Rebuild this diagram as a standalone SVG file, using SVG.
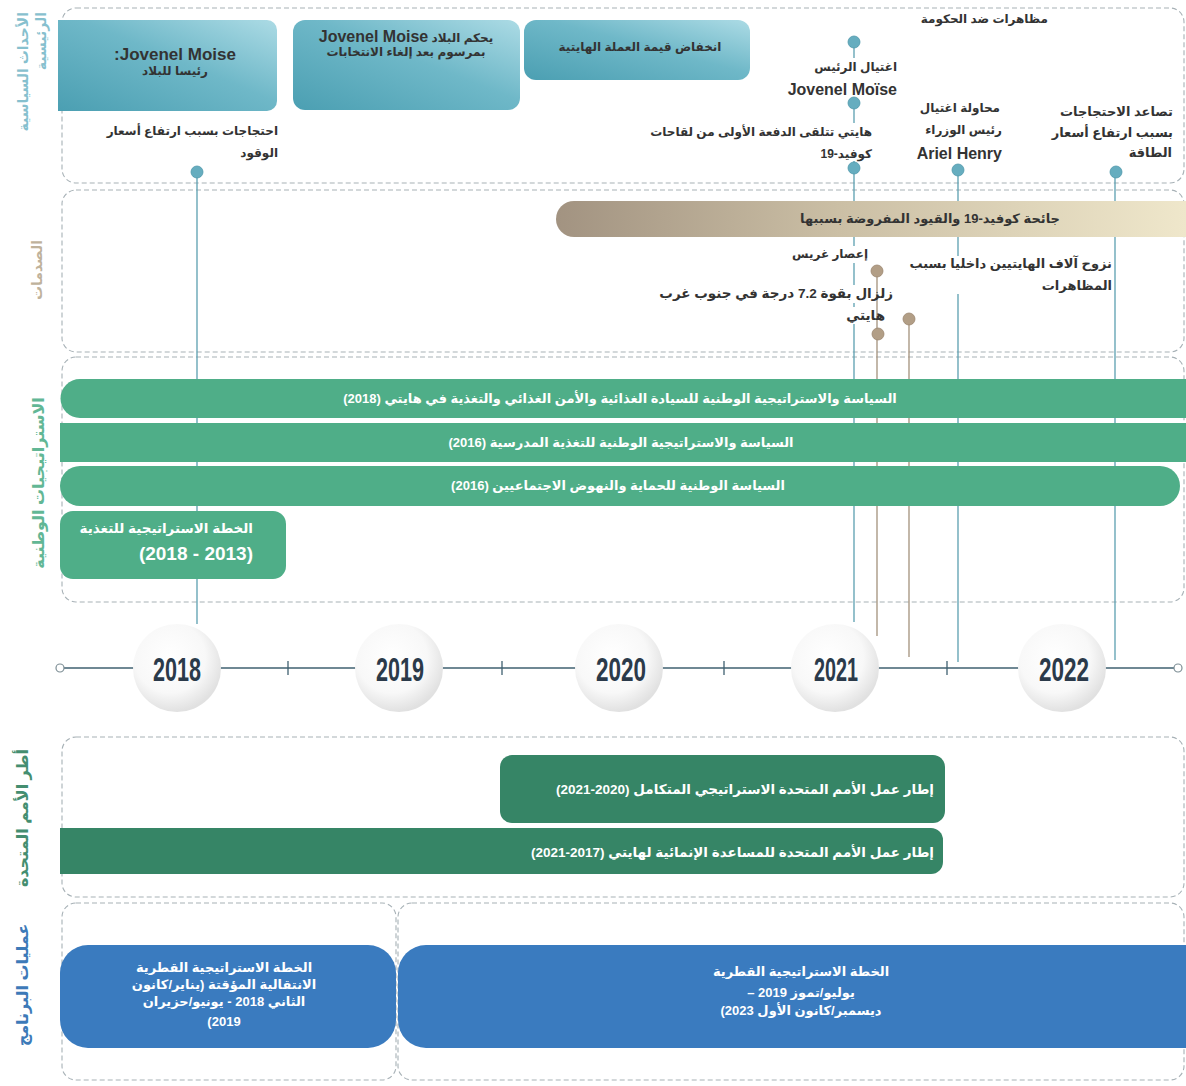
<svg xmlns="http://www.w3.org/2000/svg" width="1186" height="1086" viewBox="0 0 1186 1086">
<defs>
<style>
.sec{fill:#fff;stroke:#a7b1b6;stroke-width:1.1;stroke-dasharray:5 3}
.t{font-family:"Liberation Sans","DejaVu Sans",sans-serif;font-weight:bold;font-size:12px;fill:#333}
.m{font-size:13px}
.big{font-family:"Liberation Sans","DejaVu Sans",sans-serif;font-weight:bold;font-size:16px;fill:#333}
.w{fill:#fff}
.lbl{font-family:"Liberation Sans","DejaVu Sans",sans-serif;font-weight:bold;font-size:14px}
.yr{font-family:"Liberation Sans",sans-serif;font-weight:bold;font-size:34px;fill:#2b3a4a}
.ln{stroke:#5b9fb0;stroke-width:1.3;fill:none}
.lnt{stroke:#a3917c;stroke-width:1.3;fill:none}
.dot{fill:#66adbf;stroke:#4f98ab;stroke-width:0.8}
.dott{fill:#b29e86;stroke:#9c8770;stroke-width:0.8}
.g1{fill:#4fae88}
.g2{fill:#368566}
.b1{fill:#3a7bbf}
.tb{fill:#fff}
</style>
<linearGradient id="teal" x1="0" y1="1" x2="1" y2="0">
<stop offset="0" stop-color="#4b9fb2"/>
<stop offset="0.55" stop-color="#6fb8c8"/>
<stop offset="1" stop-color="#acdbe5"/>
</linearGradient>
<linearGradient id="covid" x1="0" y1="0" x2="1" y2="0">
<stop offset="0" stop-color="#a29381"/>
<stop offset="0.45" stop-color="#cbbfa5"/>
<stop offset="1" stop-color="#efe7cb"/>
</linearGradient>
<radialGradient id="yc" cx="0.42" cy="0.38" r="0.62">
<stop offset="0" stop-color="#ffffff"/>
<stop offset="0.65" stop-color="#f8f8f8"/>
<stop offset="1" stop-color="#e1e1e1"/>
</radialGradient>
</defs>

<rect width="1186" height="1086" fill="#fff"/>

<g id="sections">
<rect class="sec" x="62" y="8" width="1122" height="175" rx="14"/>
<rect class="sec" x="62" y="190" width="1122" height="162" rx="14"/>
<rect class="sec" x="62" y="357" width="1122" height="245" rx="14"/>
<rect class="sec" x="62" y="737" width="1122" height="160" rx="14"/>
<rect class="sec" x="62" y="903" width="334" height="177" rx="14"/>
<rect class="sec" x="398" y="903" width="786" height="177" rx="14"/>
<text class="lbl" fill="#86c0ce" direction="rtl" text-anchor="start" transform="translate(28,12) rotate(-90)">الأحداث السياسية</text>
<text class="lbl" fill="#86c0ce" direction="rtl" text-anchor="start" transform="translate(46,12) rotate(-90)">الرئيسية</text>
<text class="lbl" fill="#bfb29b" direction="rtl" text-anchor="middle" transform="translate(42,270) rotate(-90)">الصدمات</text>
<text class="lbl" fill="#62b795" direction="rtl" text-anchor="middle" style="font-size:16px" transform="translate(44,483) rotate(-90)">الاستراتيجيات الوطنية</text>
<text class="lbl" fill="#448e70" direction="rtl" text-anchor="middle" style="font-size:16px" transform="translate(28,818) rotate(-90)">أطر الأمم المتحدة</text>
<text class="lbl" fill="#3d7ab8" direction="rtl" text-anchor="middle" style="font-size:16px" transform="translate(28,985) rotate(-90)">عمليات البرنامج</text>
</g>

<g id="connectors">
<line class="ln" x1="197" y1="172" x2="197" y2="624"/>
<line class="ln" x1="854" y1="42" x2="854" y2="622"/>
<line class="ln" x1="958" y1="170" x2="958" y2="662"/>
<line class="ln" x1="1115" y1="172" x2="1115" y2="660"/>
<line class="lnt" x1="877" y1="271" x2="877" y2="636"/>
<line class="lnt" x1="909" y1="319" x2="909" y2="657"/>
</g>

<g id="timeline">
<line x1="64" y1="668" x2="1174" y2="668" stroke="#3f6070" stroke-width="1.5"/>
<circle cx="60" cy="668" r="4" fill="#fff" stroke="#7d8e95" stroke-width="1.2"/>
<circle cx="1178" cy="668" r="4" fill="#fff" stroke="#7d8e95" stroke-width="1.2"/>
<g stroke="#3f6070" stroke-width="1.3">
<line x1="288" y1="661" x2="288" y2="675"/>
<line x1="502" y1="661" x2="502" y2="675"/>
<line x1="724" y1="661" x2="724" y2="675"/>
<line x1="947" y1="661" x2="947" y2="675"/>
</g>
</g>

<g id="year-2018"><circle cx="177" cy="668" r="44" fill="url(#yc)"/><text class="yr" x="177" y="681" text-anchor="middle" textLength="48" lengthAdjust="spacingAndGlyphs">2018</text></g>
<g id="year-2019"><circle cx="399" cy="668" r="44" fill="url(#yc)"/><text class="yr" x="400" y="681" text-anchor="middle" textLength="48" lengthAdjust="spacingAndGlyphs">2019</text></g>
<g id="year-2020"><circle cx="619" cy="668" r="44" fill="url(#yc)"/><text class="yr" x="621" y="681" text-anchor="middle" textLength="50" lengthAdjust="spacingAndGlyphs">2020</text></g>
<g id="year-2021"><circle cx="835" cy="668" r="44" fill="url(#yc)"/><text class="yr" x="836" y="681" text-anchor="middle" textLength="44" lengthAdjust="spacingAndGlyphs">2021</text></g>
<g id="year-2022"><circle cx="1062" cy="668" r="44" fill="url(#yc)"/><text class="yr" x="1064" y="681" text-anchor="middle" textLength="50" lengthAdjust="spacingAndGlyphs">2022</text></g>

<g id="ev-president">
<path d="M58,20 H267 A10,10 0 0 1 277,30 V101 A10,10 0 0 1 267,111 H58 Z" fill="url(#teal)"/>
<text class="big" x="175" y="60" text-anchor="middle" style="font-size:17px">:Jovenel Moise</text>
<text class="t" x="175" y="75" text-anchor="middle" direction="rtl">رئيسا للبلاد</text>
</g>
<g id="ev-decree">
<rect x="293" y="20" width="227" height="90" rx="12" fill="url(#teal)"/>
<text class="t" x="406" y="42" text-anchor="middle"><tspan style="font-size:16px">Jovenel Moise</tspan> يحكم البلاد</text>
<text class="t" x="406" y="56" text-anchor="middle" direction="rtl">بمرسوم بعد إلغاء الانتخابات</text>
</g>
<g id="ev-currency">
<rect x="524" y="20" width="226" height="60" rx="12" fill="url(#teal)"/>
<text class="t" x="640" y="51" text-anchor="middle" direction="rtl">انخفاض قيمة العملة الهايتية</text>
</g>
<g id="ev-demonstrations">
<text class="t" x="1048" y="23" text-anchor="start" direction="rtl">مظاهرات ضد الحكومة</text>
</g>
<g id="ev-fuel">
<text class="t" x="278" y="135" text-anchor="start" direction="rtl">احتجاجات بسبب ارتفاع أسعار</text>
<text class="t" x="278" y="157" text-anchor="start" direction="rtl">الوقود</text>
<circle class="dot" cx="197" cy="172" r="6"/>
</g>
<g id="ev-assassination">
<circle class="dot" cx="854" cy="42" r="6"/>
<rect class="tb" x="775" y="58" width="125" height="40"/>
<text class="t" x="897" y="71" text-anchor="start" direction="rtl">اغتيال الرئيس</text>
<text class="big" x="897" y="95" text-anchor="end">Jovenel Moïse</text>
<circle class="dot" cx="854" cy="103" r="6"/>
</g>
<g id="ev-vaccine">
<rect class="tb" x="648" y="123" width="226" height="38"/>
<text class="t" x="872" y="136" text-anchor="start" direction="rtl">هايتي تتلقى الدفعة الأولى من لقاحات</text>
<text class="t" x="872" y="158" text-anchor="start" direction="rtl">كوفيد-19</text>
<circle class="dot" cx="854" cy="168" r="6"/>
</g>
<g id="ev-henry">
<text class="t" x="1000" y="112" text-anchor="start" direction="rtl">محاولة اغتيال</text>
<text class="t" x="1002" y="134" text-anchor="start" direction="rtl">رئيس الوزراء</text>
<text class="big" x="1002" y="159" text-anchor="end">Ariel Henry</text>
<circle class="dot" cx="958" cy="170" r="6"/>
</g>
<g id="ev-energy">
<text class="t m" x="1173" y="116" text-anchor="start" direction="rtl">تصاعد الاحتجاجات</text>
<text class="t m" x="1173" y="137" text-anchor="start" direction="rtl">بسبب ارتفاع أسعار</text>
<text class="t m" x="1172" y="157" text-anchor="start" direction="rtl">الطاقة</text>
<circle class="dot" cx="1116" cy="172" r="6"/>
</g>

<g id="sh-covid">
<path d="M574,201 H1186 V237 H574 A18,18 0 0 1 574,201 Z" fill="url(#covid)"/>
<text class="t m" x="930" y="223" text-anchor="middle" direction="rtl">جائحة كوفيد-19 والقيود المفروضة بسببها</text>
</g>
<g id="sh-grace">
<rect class="tb" x="797" y="246" width="74" height="17"/>
<text class="t" x="868" y="258" text-anchor="start" direction="rtl">إعصار غريس</text>
<circle class="dott" cx="877" cy="271" r="6"/>
</g>
<g id="sh-earthquake">
<rect class="tb" x="652" y="285" width="222" height="18"/>
<rect class="tb" x="848" y="307" width="26" height="17"/>
<text class="t" style="font-size:13.5px" x="893" y="298" text-anchor="start" direction="rtl">زلزال بقوة 7.2 درجة في جنوب غرب</text>
<text class="t" style="font-size:13.5px" x="885" y="320" text-anchor="start" direction="rtl">هايتي</text>
<circle class="dott" cx="909" cy="319" r="6"/>
<circle class="dott" cx="878" cy="334" r="6"/>
</g>
<g id="sh-displacement">
<rect class="tb" x="916" y="256" width="196" height="38"/>
<text class="t m" x="1112" y="268" text-anchor="start" direction="rtl">نزوح آلاف الهايتيين داخليا بسبب</text>
<text class="t m" x="1112" y="290" text-anchor="start" direction="rtl">المظاهرات</text>
</g>

<g id="ns-food-sovereignty">
<path d="M80,379 H1186 V418 H80 A19.5,19.5 0 0 1 80,379 Z" class="g1"/>
<text class="t m w" x="620" y="403" text-anchor="middle" direction="rtl">السياسة والاستراتيجية الوطنية للسيادة الغذائية والأمن الغذائي والتغذية في هايتي (2018)</text>
</g>
<g id="ns-school-feeding">
<rect x="60" y="423" width="1126" height="39" class="g1"/>
<text class="t m w" x="621" y="447" text-anchor="middle" direction="rtl">السياسة والاستراتيجية الوطنية للتغذية المدرسية (2016)</text>
</g>
<g id="ns-social-protection">
<rect x="60" y="466" width="1120" height="40" rx="20" class="g1"/>
<text class="t m w" x="618" y="490" text-anchor="middle" direction="rtl">السياسة الوطنية للحماية والنهوض الاجتماعيين (2016)</text>
</g>
<g id="ns-nutrition-plan">
<rect x="60" y="511" width="226" height="68" rx="13" class="g1"/>
<text class="t w" style="font-size:13.5px" x="253" y="533" text-anchor="start" direction="rtl">الخطة الاستراتيجية للتغذية</text>
<text class="big w" style="font-size:19px" x="253" y="560" text-anchor="start" direction="rtl">(2013 - 2018)</text>
</g>

<g id="un-iscf">
<rect x="500" y="755" width="445" height="68" rx="12" class="g2"/>
<text class="t w" style="font-size:13.5px" x="934" y="794" text-anchor="start" direction="rtl">إطار عمل الأمم المتحدة الاستراتيجي المتكامل (2020-2021)</text>
</g>
<g id="un-undaf">
<path d="M60,828 H931 A12,12 0 0 1 943,840 V862 A12,12 0 0 1 931,874 H60 Z" class="g2"/>
<text class="t w" style="font-size:13.5px" x="934" y="857" text-anchor="start" direction="rtl">إطار عمل الأمم المتحدة للمساعدة الإنمائية لهايتي (2017-2021)</text>
</g>

<g id="op-tcsp">
<rect x="60" y="945" width="336" height="103" rx="28" class="b1"/>
<text class="t m w" x="224" y="972" text-anchor="middle" direction="rtl">الخطة الاستراتيجية القطرية</text>
<text class="t m w" x="224" y="989" text-anchor="middle" direction="rtl">الانتقالية المؤقتة (يناير/كانون</text>
<text class="t m w" x="224" y="1006" text-anchor="middle" direction="rtl">الثاني 2018 - يونيو/حزيران</text>
<text class="t m w" x="224" y="1026" text-anchor="middle" direction="rtl">2019)</text>
</g>
<g id="op-csp">
<path d="M426,945 H1186 V1048 H426 A28,28 0 0 1 398,1020 V973 A28,28 0 0 1 426,945 Z" class="b1"/>
<text class="t m w" x="801" y="976" text-anchor="middle" direction="rtl">الخطة الاستراتيجية القطرية</text>
<text class="t m w" x="801" y="997" text-anchor="middle" direction="rtl">يوليو/تموز 2019 –</text>
<text class="t m w" x="801" y="1015" text-anchor="middle" direction="rtl">ديسمبر/كانون الأول 2023)</text>
</g>
</svg>
